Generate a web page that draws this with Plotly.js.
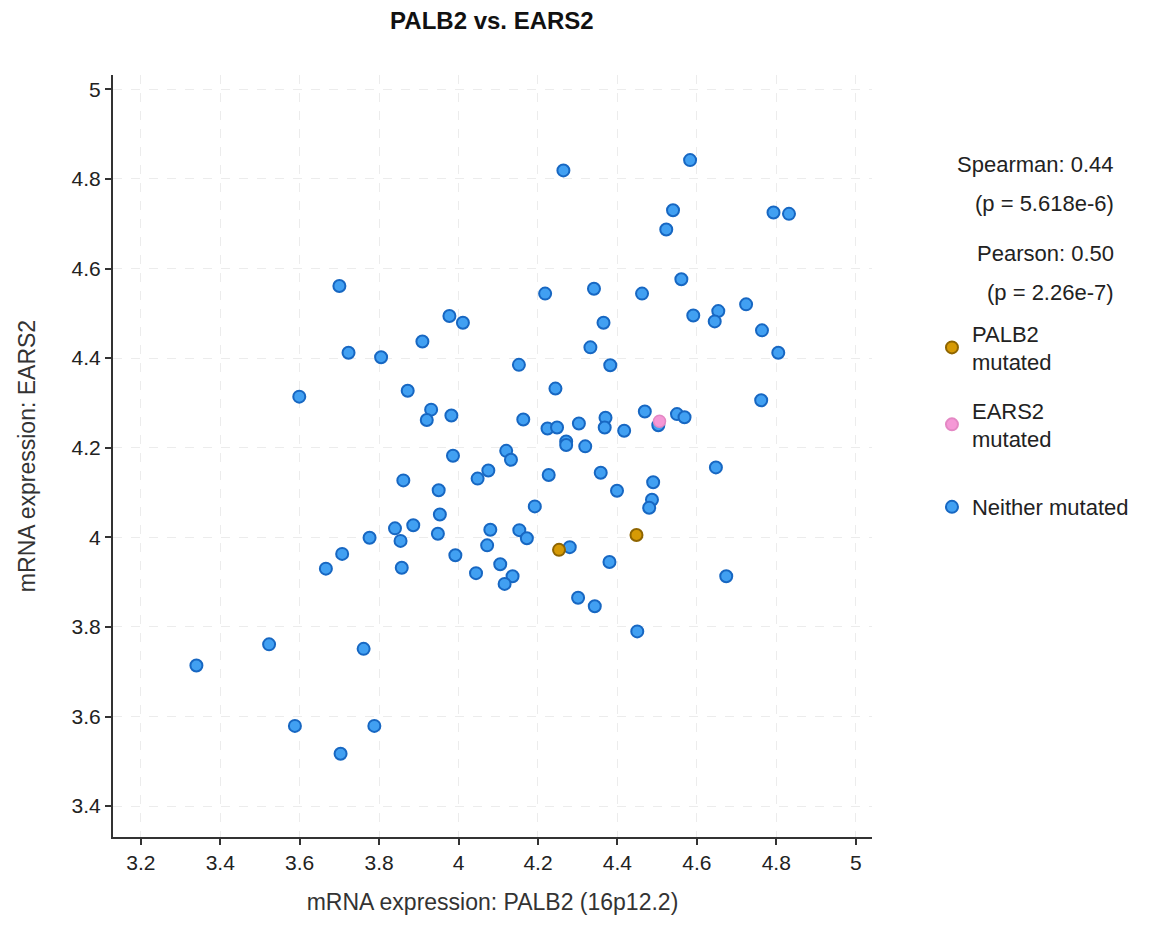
<!DOCTYPE html>
<html>
<head>
<meta charset="utf-8">
<script src="https://cdn.plot.ly/plotly-3.0.1.min.js"></script>
<style>
html,body{margin:0;padding:0;background:#fff;}
#chart{width:1152px;height:925px;}
</style>
</head>
<body>
<div id="chart"></div>
<script>
// Neither mutated
const neitherX = [3.700,3.977,4.011,3.909,3.723,3.805,3.599,3.872,3.931,3.920,3.982,3.986,
  4.264,4.583,4.540,4.523,4.793,4.832,4.561,4.218,4.341,4.462,4.591,4.654,4.645,4.724,4.764,4.805,
  4.365,4.332,4.382,4.152,4.244,4.762,4.163,4.224,4.248,4.303,4.370,4.368,4.417,4.469,4.503,4.550,4.569,
  4.271,4.271,4.319,4.120,4.132,4.648,4.048,4.075,3.861,3.950,3.953,3.886,3.840,3.854,3.948,4.080,4.072,
  3.776,3.707,3.666,3.857,3.992,4.044,4.105,4.136,4.116,3.340,3.523,3.761,3.588,3.788,3.703,
  4.227,4.358,4.399,4.490,4.487,4.480,4.192,4.153,4.172,4.280,4.380,4.674,4.301,4.343,4.450];
const neitherY = [4.561,4.494,4.479,4.437,4.412,4.402,4.314,4.327,4.285,4.262,4.272,4.182,
  4.819,4.842,4.730,4.687,4.725,4.722,4.576,4.544,4.555,4.544,4.495,4.505,4.482,4.520,4.462,4.412,
  4.479,4.424,4.384,4.385,4.332,4.306,4.263,4.243,4.245,4.254,4.267,4.245,4.238,4.281,4.250,4.275,4.268,
  4.214,4.206,4.203,4.193,4.173,4.156,4.131,4.149,4.127,4.105,4.051,4.027,4.020,3.992,4.008,4.017,3.982,
  3.999,3.963,3.930,3.932,3.960,3.920,3.940,3.913,3.896,3.714,3.761,3.751,3.579,3.579,3.517,
  4.139,4.144,4.104,4.123,4.084,4.066,4.069,4.016,3.998,3.978,3.945,3.913,3.865,3.846,3.790];
// PALB2 mutated
const palb2X = [4.253,4.448];
const palb2Y = [3.972,4.005];
// EARS2 mutated
const ears2X = [4.506];
const ears2Y = [4.259];

const tickVals = [3.2,3.4,3.6,3.8,4,4.2,4.4,4.6,4.8,5];
const tickVals2 = [3.4,3.6,3.8,4,4.2,4.4,4.6,4.8,5];
const statLines = ["Spearman: 0.44","(p = 5.618e-6)","Pearson: 0.50","(p = 2.26e-7)"];

const FONT = "Liberation Sans, Arial, sans-serif";
const LFONT = {family:FONT, size:22, color:'#222'};

const traces = [
  {x: neitherX, y: neitherY, type:'scatter', mode:'markers', name:'Neither mutated', legend:'legend3',
   marker:{size:12, color:'#41a0f2', line:{color:'#1767c2', width:2}}},
  {x: ears2X, y: ears2Y, type:'scatter', mode:'markers', name:'EARS2<br>mutated', legend:'legend2',
   marker:{size:12, color:'#f598d6', line:{color:'#e488c4', width:1.5}}},
  {x: palb2X, y: palb2Y, type:'scatter', mode:'markers', name:'PALB2<br>mutated', legend:'legend',
   marker:{size:12, color:'#d69a05', line:{color:'#8f6500', width:2}}}
];

const statY = [0.882, 0.832, 0.766, 0.714];
const annotations = statLines.map((s,i)=>({
  text:s, xref:'paper', yref:'paper', x:1.322, y:statY[i], xanchor:'right', yanchor:'middle',
  showarrow:false, font:LFONT
}));

function leg(y){
  return {x:1.079, xanchor:'left', y:y, yanchor:'middle', font:LFONT, itemsizing:'constant',
          bgcolor:'rgba(0,0,0,0)', borderwidth:0};
}

const layout = {
  width:1152, height:925,
  paper_bgcolor:'#fff', plot_bgcolor:'#fff',
  margin:{l:113, r:280, t:75, b:88},
  title:{text:'<b>PALB2 vs. EARS2</b>', x:0.427, xanchor:'center', y:0.978, yanchor:'middle',
         font:{family:FONT, size:24, color:'#111'}},
  font:{family:FONT, size:21, color:'#222'},
  xaxis:{range:[3.130,5.041], tickvals:tickVals, ticktext:tickVals.map(String),
         showline:true, linecolor:'#333', linewidth:2, ticks:'outside', ticklen:6, tickwidth:2, tickcolor:'#333',
         showgrid:true, gridcolor:'#ececec', griddash:'dash', gridwidth:1, zeroline:false,
         tickfont:{family:FONT, size:21, color:'#222'},
         title:{text:'mRNA expression: PALB2 (16p12.2)', standoff:21, font:{family:FONT, size:23, color:'#333'}}},
  yaxis:{range:[3.331,5.032], tickvals:tickVals2, ticktext:tickVals2.map(String),
         showline:true, linecolor:'#333', linewidth:2, ticks:'outside', ticklen:6, tickwidth:2, tickcolor:'#333',
         showgrid:true, gridcolor:'#ececec', griddash:'dash', gridwidth:1, zeroline:false,
         tickfont:{family:FONT, size:21, color:'#222'},
         title:{text:'mRNA expression: EARS2', standoff:30, font:{family:FONT, size:23, color:'#333'}}},
  showlegend:true,
  legend: leg(0.642),
  legend2: leg(0.541),
  legend3: leg(0.433),
  annotations: annotations
};

Plotly.newPlot('chart', traces, layout, {displayModeBar:false, staticPlot:true});
</script>
</body>
</html>
